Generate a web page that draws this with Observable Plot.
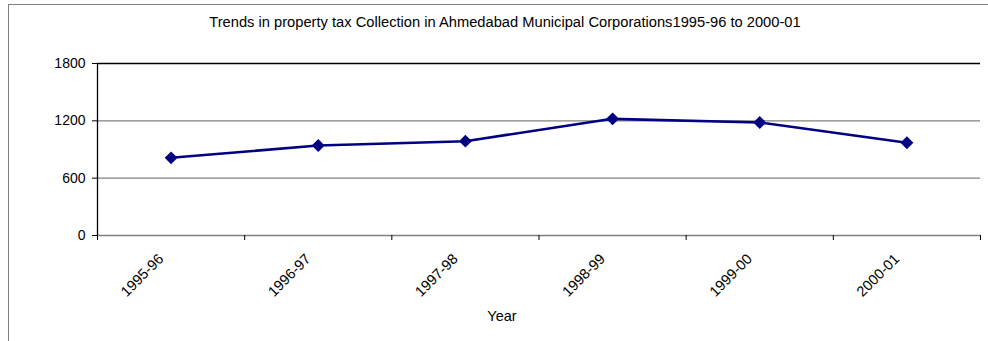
<!DOCTYPE html>
<html>
<head>
<meta charset="utf-8">
<script src="https://cdn.jsdelivr.net/npm/d3@7"></script>
<script src="https://cdn.jsdelivr.net/npm/@observablehq/plot@0.6"></script>
<style>
  html, body { margin: 0; padding: 0; background: #fff; overflow: hidden; }
  #wrap { position: relative; width: 988px; height: 341px; }
  #box { position: absolute; left: 8px; top: 4px; width: 1000px; height: 400px; border: 1px solid #808080; box-sizing: border-box; }
  #title { position: absolute; left: 0; top: 14px; width: 1010px; text-align: center; font-family: "Liberation Sans", Arial, sans-serif; font-size: 14.7px; line-height: 17px; color: #000; }
  #chart { position: absolute; left: 0; top: 0; }
</style>
</head>
<body>
<div id="wrap">
  <div id="box"></div>
  <div id="chart"></div>
  <div id="title">Trends in property tax Collection in Ahmedabad Municipal Corporations1995-96 to 2000-01</div>
</div>
<script>
const years = ["1995-96", "1996-97", "1997-98", "1998-99", "1999-00", "2000-01"];
const collection = [813, 942, 987, 1221, 1183, 970];
const yTicks = [0, 600, 1200, 1800];
const xLabel = "Year";

const data = years.map((y, i) => ({i, year: y, value: collection[i]}));

const chart = Plot.plot({
  width: 988,
  height: 341,
  marginLeft: 97,
  marginRight: 8,
  marginTop: 63,
  marginBottom: 106,
  style: {fontFamily: "Liberation Sans, Arial, sans-serif", fontSize: "14px", background: "transparent", overflow: "visible"},
  x: {type: "linear", domain: [0, years.length]},
  y: {domain: [0, 1800]},
  marks: [
    Plot.ruleY([600, 1200], {stroke: "#808080", strokeWidth: 1.3}),
    Plot.ruleY([0], {stroke: "#808080", strokeWidth: 1.3}),
    Plot.ruleY([1800], {stroke: "#000", strokeWidth: 1.3}),
    Plot.ruleX([0], {stroke: "#000", strokeWidth: 1.3}),
    Plot.axisY({ticks: yTicks, tickSize: 5, tickPadding: 7, tickFormat: d => String(d), label: null, fontSize: 14, color: "#000"}),
    Plot.axisX({ticks: d3.range(years.length + 1), tickSize: 5, tickFormat: () => "", label: null, stroke: "#000"}),
    Plot.axisX({ticks: d3.range(years.length).map(i => i + 0.5), tickSize: 0, tickPadding: 21, tickRotate: -45, dx: -10,
      tickFormat: d => years[Math.floor(d)], label: null, fontSize: 14.5, color: "#000"}),
    Plot.line(data, {x: d => d.i + 0.5, y: "value", stroke: "#000080", strokeWidth: 2.6}),
    Plot.dot(data, {x: d => d.i + 0.5, y: "value", symbol: "diamond2", r: 5.8, fill: "#000080", stroke: "none"}),
    Plot.text([xLabel], {frameAnchor: "bottom", dx: -37, dy: 81, lineAnchor: "middle", fontSize: 14.5, fill: "#000"})
  ]
});
document.getElementById("chart").appendChild(chart);
</script>
</body>
</html>
